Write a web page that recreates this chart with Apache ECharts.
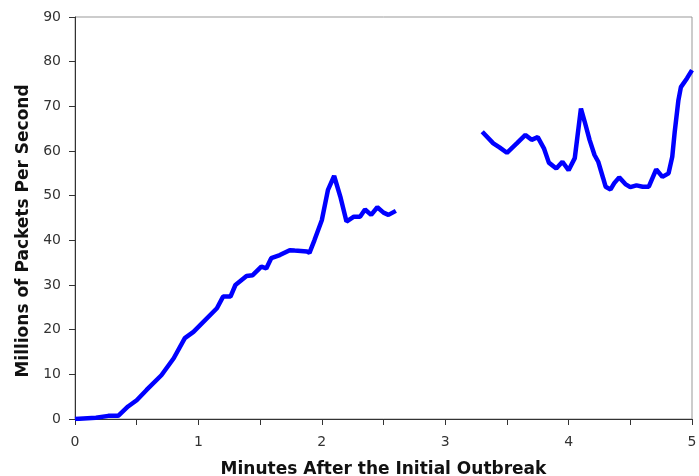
<!DOCTYPE html>
<html>
<head>
<meta charset="utf-8">
<script src="https://cdn.jsdelivr.net/npm/echarts@6/dist/echarts.min.js"></script>
<style>html,body{margin:0;padding:0;background:#fff;}#c{width:699px;height:476px;}</style>
</head>
<body>
<div id="c"></div>
<script>
// Segment 1 (minutes, millions of packets/s)
var xs1 = [0, 0.17, 0.27, 0.35, 0.43, 0.5, 0.58, 0.7, 0.8, 0.89, 0.96, 1.15, 1.2, 1.26, 1.3, 1.39, 1.44, 1.51, 1.55, 1.59, 1.66, 1.74, 1.78, 1.88, 1.9, 1.94, 2.0, 2.05, 2.1, 2.15, 2.2, 2.26, 2.31, 2.35, 2.4, 2.45, 2.5, 2.54, 2.6];
var ys1 = [0, 0.3, 0.7, 0.7, 2.8, 4.2, 6.5, 9.8, 13.6, 18.1, 19.5, 24.8, 27.4, 27.4, 30, 32, 32.2, 34.1, 33.7, 36, 36.7, 37.8, 37.7, 37.5, 37.2, 40, 44.5, 51.3, 54.4, 49.8, 44.2, 45.3, 45.3, 46.9, 45.7, 47.4, 46.2, 45.7, 46.6];
// Segment 2
var xs2 = [3.3, 3.39, 3.44, 3.5, 3.58, 3.65, 3.7, 3.75, 3.8, 3.84, 3.9, 3.95, 4.0, 4.05, 4.08, 4.1, 4.13, 4.17, 4.21, 4.24, 4.28, 4.3, 4.34, 4.37, 4.41, 4.46, 4.5, 4.55, 4.6, 4.65, 4.69, 4.71, 4.76, 4.81, 4.84, 4.86, 4.89, 4.91, 4.96, 5.0];
var ys2 = [64.3, 61.7, 60.8, 59.6, 61.7, 63.6, 62.5, 63.1, 60.6, 57.4, 56.1, 57.6, 55.7, 58.4, 65.1, 69.5, 66.6, 62.5, 59.1, 57.6, 53.9, 52, 51.4, 52.8, 54.1, 52.6, 51.9, 52.3, 52, 52, 54.6, 55.9, 54.2, 55, 58.7, 64.3, 71.4, 74.3, 76.3, 78.1];
var xTicks = [0, 1, 2, 3, 4, 5];
var yTicks = [0, 10, 20, 30, 40, 50, 60, 70, 80, 90];

var data = [];
xs1.forEach(function (x, i) { data.push([x, ys1[i]]); });
data.push([(xs1[xs1.length - 1] + xs2[0]) / 2, '-']);
xs2.forEach(function (x, i) { data.push([x, ys2[i]]); });

var chart = echarts.init(document.getElementById('c'));
chart.setOption({
  animation: false,
  backgroundColor: '#fff',
  grid: { left: 75, right: 7, top: 17, bottom: 57, containLabel: false, outerBoundsMode: 'none',
    show: true, borderColor: '#999', borderWidth: 1, backgroundColor: 'transparent' },
  xAxis: {
    type: 'value', min: xTicks[0], max: xTicks[xTicks.length - 1], interval: 0.5,
    name: 'Minutes After the Initial Outbreak', nameLocation: 'middle', nameGap: 42,
    nameTextStyle: { fontFamily: 'DejaVu Sans', fontWeight: 'bold', fontSize: 17, color: '#111' },
    axisLine: { lineStyle: { color: '#333', width: 1 } },
    axisTick: { show: true, length: 6, lineStyle: { color: '#333' } },
    axisLabel: { margin: 16, fontFamily: 'DejaVu Sans', fontSize: 14, color: '#333',
      formatter: function (v) { return xTicks.indexOf(v) >= 0 ? String(v) : ''; } },
    splitLine: { show: false }
  },
  yAxis: {
    type: 'value', min: yTicks[0], max: yTicks[yTicks.length - 1], interval: 10,
    name: 'Millions of Packets Per Second', nameLocation: 'middle', nameGap: 39,
    nameTextStyle: { fontFamily: 'DejaVu Sans', fontWeight: 'bold', fontSize: 17, color: '#111', padding: [0, 26, 0, 0] },
    axisLine: { show: true, lineStyle: { color: '#333', width: 1 } },
    axisTick: { show: true, length: 6, lineStyle: { color: '#333' } },
    axisLabel: { margin: 14, fontFamily: 'DejaVu Sans', fontSize: 14, color: '#333' },
    splitLine: { show: false }
  },
  series: [{
    type: 'line', data: data, showSymbol: false, connectNulls: false,
    lineStyle: { color: '#0000ff', width: 4.5 }, itemStyle: { color: '#0000ff' }
  }]
});
</script>
</body>
</html>
